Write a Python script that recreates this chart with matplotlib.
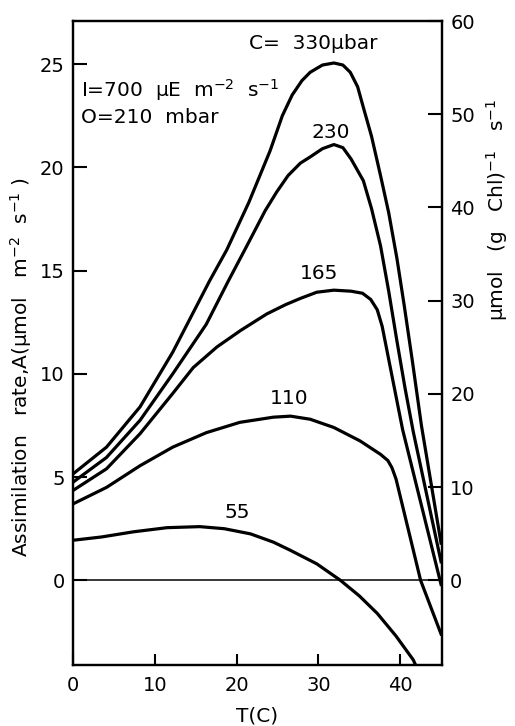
import matplotlib
matplotlib.use('Agg')
import matplotlib.pyplot as plt

plt.rcParams['font.family'] = ['DejaVu Sans']
plt.rcParams['mathtext.fontset'] = 'dejavusans'

# temperature (C) and assimilation rate A for each CO2 level
t_330 = [0, 4.1, 8.2, 12.2, 16.7, 18.8, 21.5, 24.1, 25.6, 26.8, 28.0, 29.0, 30.5, 31.9, 33.0, 33.9, 34.8, 35.5, 36.5, 37.6, 38.6, 39.6, 40.5, 41.5, 42.6, 45.0]
a_330 = [5.15, 6.45, 8.4, 11.05, 14.5, 16.0, 18.3, 20.8, 22.5, 23.5, 24.2, 24.6, 24.95, 25.05, 24.95, 24.6, 23.9, 22.9, 21.5, 19.6, 17.8, 15.6, 13.3, 10.6, 7.5, 1.8]

t_230 = [0, 4.1, 8.2, 12.2, 16.3, 19.0, 21.0, 23.5, 24.9, 26.3, 27.8, 29.0, 30.5, 31.9, 33.0, 34.0, 35.5, 36.5, 37.6, 38.6, 39.6, 40.6, 41.6, 45.0]
a_230 = [4.75, 5.95, 7.75, 10.0, 12.4, 14.5, 16.0, 17.9, 18.8, 19.6, 20.2, 20.5, 20.9, 21.1, 20.95, 20.4, 19.35, 18.0, 16.2, 14.0, 11.6, 9.3, 7.2, 0.9]

t_165 = [0, 4.1, 8.2, 12.2, 14.7, 17.6, 20.5, 23.7, 26.0, 27.8, 29.8, 31.9, 34.0, 35.4, 36.4, 37.2, 37.8, 38.4, 40.3, 45.0]
a_165 = [4.35, 5.4, 7.1, 9.05, 10.3, 11.3, 12.1, 12.9, 13.35, 13.65, 13.95, 14.05, 14.0, 13.9, 13.6, 13.1, 12.3, 11.1, 7.3, -0.2]

t_110 = [0, 4.1, 8.2, 12.2, 16.3, 20.4, 24.5, 26.6, 29.0, 31.9, 35.1, 37.6, 38.5, 39.0, 39.5, 42.5, 45.0]
a_110 = [3.7, 4.5, 5.55, 6.45, 7.15, 7.65, 7.9, 7.95, 7.8, 7.4, 6.75, 6.1, 5.8, 5.45, 4.9, 0.0, -2.6]

t_55 = [0, 3.5, 7.4, 11.5, 15.5, 18.5, 21.7, 24.5, 26.6, 29.8, 32.7, 35.0, 37.2, 39.5, 41.6, 42.0]
a_55 = [1.94, 2.1, 2.35, 2.55, 2.6, 2.5, 2.25, 1.85, 1.45, 0.8, 0.0, -0.75, -1.6, -2.7, -3.85, -4.2]

curves = [(t_330, a_330), (t_230, a_230), (t_165, a_165), (t_110, a_110), (t_55, a_55)]
curve_labels = ['C=  330\u03bcbar', '230', '165', '110', '55']
label_pos = [(29.4, 26.0), (31.5, 21.7), (30.1, 14.85), (26.4, 8.8), (20.1, 3.3)]

x_ticks = [0, 10, 20, 30, 40]
left_ticks = [0, 5, 10, 15, 20, 25]
right_ticks = [0, 10, 20, 30, 40, 50, 60]

FS = 14.5

fig = plt.figure(figsize=(5.15, 7.26), dpi=100)
ax = fig.add_axes([0.1417, 0.084, 0.7163, 0.887])

for t, a in curves:
    ax.plot(t, a, color='black', lw=2.3, solid_joinstyle='round')
ax.axhline(0, color='black', lw=1.1)

for lab, (x, y) in zip(curve_labels, label_pos):
    ax.text(x, y, lab, ha='center', va='center', fontsize=FS)

ax.text(1.0, 23.75, 'I=700  \u03bcE  m$^{-2}$  s$^{-1}$', ha='left', va='center', fontsize=FS)
ax.text(1.0, 22.4, 'O=210  mbar', ha='left', va='center', fontsize=FS)

ax.set_xlim(0, 45.1)
ax.set_ylim(-4.1, 27.08)
ax.set_xticks(x_ticks)
ax.set_yticks(left_ticks)
ax.tick_params(direction='in', length=10, width=1.5, labelsize=14, pad=6)
ax.tick_params(axis='x', length=8, pad=8)
for s in ax.spines.values():
    s.set_linewidth(1.6)

ax.set_xlabel('T(C)', fontsize=FS, labelpad=8)
ax.set_ylabel('Assimilation   rate,A(\u03bcmol   m$^{-2}$  s$^{-1}$ )', fontsize=FS)
ax.yaxis.set_label_coords(-0.105, 0.463)

k = 60 / 27.08
ax2 = ax.twinx()
ax2.set_ylim(-4.1 * k, 27.08 * k)
ax2.set_yticks(right_ticks)
ax2.tick_params(direction='in', length=10, width=1.5, labelsize=14, pad=6)
ax2.set_ylabel('\u03bcmol   (g   Chl)$^{-1}$   s$^{-1}$', fontsize=FS)
ax2.yaxis.set_label_coords(1.115, 0.707)
for s in ax2.spines.values():
    s.set_linewidth(1.6)

fig.savefig('out.png', dpi=100)
